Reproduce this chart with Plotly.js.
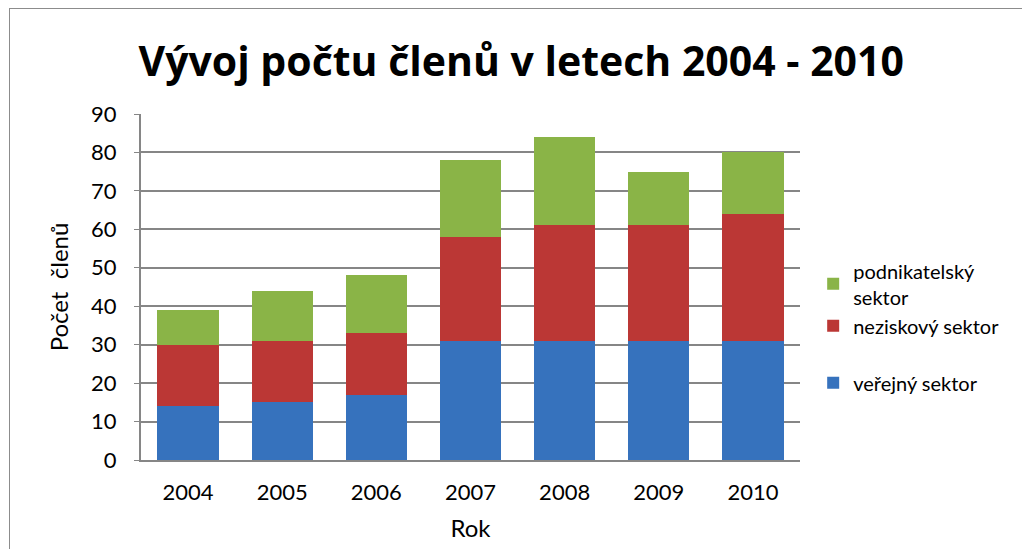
<!DOCTYPE html>
<html><head><meta charset="utf-8">
<script src="https://cdn.plot.ly/plotly-3.0.1.min.js"></script>
<style>
html,body{margin:0;padding:0;background:#fff;}
#frame{position:absolute;left:9px;top:8px;width:1030px;height:560px;border:1.5px solid #8c8c8c;box-sizing:border-box;}
#chart{position:absolute;left:0;top:0;width:1022px;height:549px;}
</style>
</head><body>
<div id="frame"></div>
<div id="chart"></div>
<script>
const years = ['2004','2005','2006','2007','2008','2009','2010'];
const verejny = [14, 15, 17, 31, 31, 31, 31];
const neziskovy = [16, 16, 16, 27, 30, 30, 33];
const podnikatelsky = [9, 13, 15, 20, 23, 14, 16];
const seriesNames = ['veřejný sektor', 'neziskový sektor', 'podnikatelský<br>sektor'];
const yTicks = [0,10,20,30,40,50,60,70,80,90];

const font = "Lato, 'Open Sans', sans-serif";
const traces = [
  {type:'bar', x:years, y:verejny, name:seriesNames[0], legendgroup:'b', legendrank:3, marker:{color:'#3672bd'}},
  {type:'bar', x:years, y:neziskovy, name:seriesNames[1], legendgroup:'a', legendrank:2, marker:{color:'#bb3735'}},
  {type:'bar', x:years, y:podnikatelsky, name:seriesNames[2], legendgroup:'a', legendrank:1, marker:{color:'#8ab447'}}
];
const layout = {
  width:1022, height:549,
  paper_bgcolor:'rgba(0,0,0,0)', plot_bgcolor:'rgba(0,0,0,0)',
  barmode:'stack', bargap:0.35,
  margin:{l:141, r:222, t:114, b:89},
  font:{family:font, color:'#000', size:20},
  title:{text:'<b>Vývoj počtu členů v letech 2004 - 2010</b>', x:0.51, xref:'container', xanchor:'center', y:0.887, yanchor:'middle',
    font:{family:"'Open Sans', sans-serif", size:41, color:'#000'}},
  xaxis:{type:'category', showline:true, linecolor:'#868686', linewidth:2, ticks:'', tickfont:{size:22}, ticklabelstandoff:12,
    title:{text:'Rok', font:{size:24}, standoff:16}},
  yaxis:{range:[0,90], tickvals:yTicks, showline:true, linecolor:'#868686', linewidth:2, ticks:'outside', ticklen:5, tickcolor:'#868686',
    gridcolor:'#868686', gridwidth:2, zeroline:false, tickfont:{size:22}, ticklabelstandoff:13,
    title:{text:'Počet  členů', font:{size:24}, standoff:16}},
  legend:{x:1.02, xanchor:'left', y:0.385, yanchor:'middle', traceorder:'grouped', font:{size:20}, itemwidth:30, tracegroupgap:28},
  showlegend:true
};
Plotly.newPlot('chart', traces, layout, {displayModeBar:false, staticPlot:true});
</script>
</body></html>
